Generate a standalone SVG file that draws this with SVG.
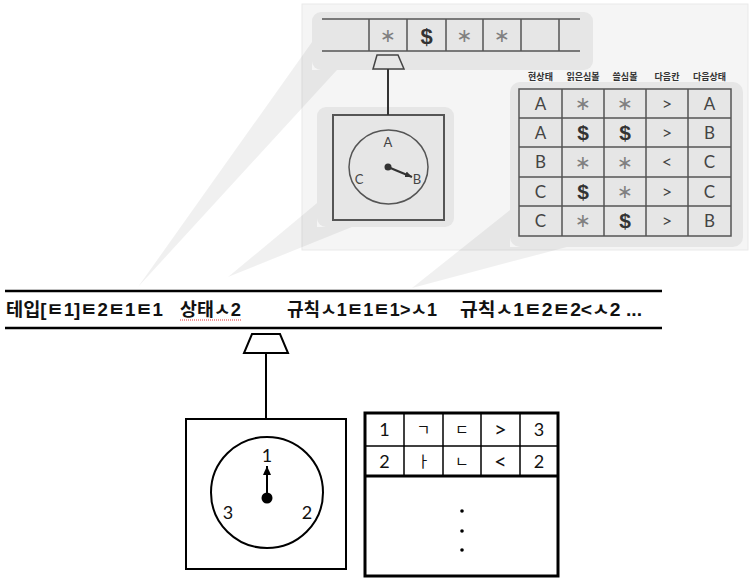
<svg xmlns="http://www.w3.org/2000/svg" width="755" height="586" viewBox="0 0 755 586">
<style>
.bgpanel{fill:#f5f5f5;stroke:#e9e9e9;stroke-width:1}
.wedge{fill:#000;fill-opacity:0.06}
.grp{fill:#e6e6e6}
.gl{stroke:#555;stroke-width:1.5;fill:none}
.gt{font-family:Lato,"Liberation Sans",sans-serif;fill:#444;text-anchor:middle}
.ast{font-family:"DejaVu Sans",sans-serif;fill:#808080;text-anchor:middle;font-size:19px}
.dol{font-family:"Liberation Sans",sans-serif;font-weight:bold;fill:#333;text-anchor:middle}
.hdr{font-family:"Noto Sans CJK KR",sans-serif;font-weight:bold;font-size:9px;fill:#333;text-anchor:middle}
.bl{stroke:#000;stroke-width:2;fill:none}
.tape{font-family:"Liberation Sans","Noto Sans CJK KR",sans-serif;font-weight:bold;font-size:18px;fill:#111}
.bt{font-family:Lato,"Liberation Sans",sans-serif;font-size:18px;fill:#111;text-anchor:middle}
.bc{font-family:Lato,"Liberation Sans",sans-serif;font-size:22px;fill:#111;text-anchor:middle}
.bj{font-family:"Noto Sans CJK KR",sans-serif;font-size:15px;fill:#111;text-anchor:middle}
</style>
<defs>
<marker id="ahg" markerWidth="8" markerHeight="8" refX="7" refY="4" orient="auto" markerUnits="userSpaceOnUse">
<path d="M0,1 L7,4 L0,7 Z" fill="#333"/>
</marker>
<marker id="ahb" markerWidth="10" markerHeight="10" refX="9" refY="5" orient="auto" markerUnits="userSpaceOnUse">
<path d="M0,1 L9,5 L0,9 Z" fill="#000"/>
</marker>
</defs>

<g id="zoom-panel">
<rect class="bgpanel" x="302" y="4" width="446" height="246"/>
</g>
<g id="projection-wedges">
<polygon class="wedge" points="138,287 312,42 312,70 337,70"/>
<polygon class="wedge" points="228,277 317,203 317,227 352,227"/>
<polygon class="wedge" points="412,288 510,210 510,247 567,247"/>
</g>

<g id="top-tape">
<rect class="grp" x="312" y="12" width="281" height="58" rx="9"/>
<line class="gl" x1="322" y1="19" x2="580" y2="19"/>
<line class="gl" x1="322" y1="51" x2="580" y2="51"/>
<line class="gl" x1="369" y1="19" x2="369" y2="51"/>
<line class="gl" x1="407" y1="19" x2="407" y2="51"/>
<line class="gl" x1="446" y1="19" x2="446" y2="51"/>
<line class="gl" x1="483" y1="19" x2="483" y2="51"/>
<line class="gl" x1="521" y1="19" x2="521" y2="51"/>
<line class="gl" x1="559" y1="19" x2="559" y2="51"/>
<text class="ast" x="388" y="42">∗</text>
<text class="dol" x="426.5" y="44" font-size="22">$</text>
<text class="ast" x="464.5" y="42">∗</text>
<text class="ast" x="502" y="42">∗</text>
</g>

<g id="top-head">
<polygon points="377,55 398,55 404,69 373,69" fill="none" stroke="#444" stroke-width="1.5"/>
</g>

<g id="top-machine">
<rect class="grp" x="317" y="107" width="137" height="120" rx="9"/>
<rect x="333" y="115" width="111" height="105" fill="none" stroke="#555" stroke-width="2"/>
<ellipse cx="388.5" cy="167" rx="39.5" ry="37" class="gl"/>
<text class="gt" x="388" y="147" font-size="13">A</text>
<text class="gt" x="359" y="184" font-size="13">C</text>
<text class="gt" x="417" y="184" font-size="13">B</text>
<circle cx="388" cy="167" r="3.5" fill="#333"/>
<line x1="388" y1="167" x2="412" y2="177" stroke="#333" stroke-width="2" marker-end="url(#ahg)"/>
</g>

<g id="top-table">
<text class="hdr" x="540.5" y="80">현상태</text>
<text class="hdr" x="583" y="80">읽은심볼</text>
<text class="hdr" x="625" y="80">쓸심볼</text>
<text class="hdr" x="667" y="80">다음칸</text>
<text class="hdr" x="709.5" y="80">다음상태</text>
<rect class="grp" x="510" y="82" width="233" height="165" rx="10"/>
<rect class="gl" x="519" y="89" width="212" height="147"/>
<line class="gl" x1="562" y1="89" x2="562" y2="236"/>
<line class="gl" x1="604" y1="89" x2="604" y2="236"/>
<line class="gl" x1="646" y1="89" x2="646" y2="236"/>
<line class="gl" x1="688" y1="89" x2="688" y2="236"/>
<line class="gl" x1="519" y1="118" x2="731" y2="118"/>
<line class="gl" x1="519" y1="147" x2="731" y2="147"/>
<line class="gl" x1="519" y1="177" x2="731" y2="177"/>
<line class="gl" x1="519" y1="206" x2="731" y2="206"/>
<!-- row 1 -->
<text class="gt" x="540.5" y="109.5" font-size="17">A</text>
<text class="ast" x="583" y="110">∗</text>
<text class="ast" x="625" y="110">∗</text>
<text class="gt" x="667" y="109.5" font-size="18">&gt;</text>
<text class="gt" x="709.5" y="109.5" font-size="17">A</text>
<!-- row 2 -->
<text class="gt" x="540.5" y="138.5" font-size="17">A</text>
<text class="dol" x="583" y="140" font-size="21">$</text>
<text class="dol" x="625" y="140" font-size="21">$</text>
<text class="gt" x="667" y="138.5" font-size="18">&gt;</text>
<text class="gt" x="709.5" y="138.5" font-size="17">B</text>
<!-- row 3 -->
<text class="gt" x="540.5" y="168" font-size="17">B</text>
<text class="ast" x="583" y="168.5">∗</text>
<text class="ast" x="625" y="168.5">∗</text>
<text class="gt" x="667" y="168" font-size="18">&lt;</text>
<text class="gt" x="709.5" y="168" font-size="17">C</text>
<!-- row 4 -->
<text class="gt" x="540.5" y="197.5" font-size="17">C</text>
<text class="dol" x="583" y="199" font-size="21">$</text>
<text class="ast" x="625" y="198">∗</text>
<text class="gt" x="667" y="197.5" font-size="18">&gt;</text>
<text class="gt" x="709.5" y="197.5" font-size="17">C</text>
<!-- row 5 -->
<text class="gt" x="540.5" y="226.5" font-size="17">C</text>
<text class="ast" x="583" y="227">∗</text>
<text class="dol" x="625" y="228" font-size="21">$</text>
<text class="gt" x="667" y="226.5" font-size="18">&gt;</text>
<text class="gt" x="709.5" y="226.5" font-size="17">B</text>
</g>

<g id="bottom-tape">
<line x1="5" y1="291" x2="662" y2="291" stroke="#000" stroke-width="2.5"/>
<line x1="5" y1="328" x2="662" y2="328" stroke="#000" stroke-width="2.5"/>
<text class="tape" x="6" y="316" textLength="157" lengthAdjust="spacingAndGlyphs">테입[ㅌ1]ㅌ2ㅌ1ㅌ1</text>
<text class="tape" x="180" y="316" textLength="61" lengthAdjust="spacingAndGlyphs">상태ㅅ2</text>
<line x1="180" y1="320" x2="241" y2="320" stroke="#e03030" stroke-width="1" stroke-dasharray="1,1"/>
<text class="tape" x="287" y="316" textLength="150" lengthAdjust="spacingAndGlyphs">규칙ㅅ1ㅌ1ㅌ1&gt;ㅅ1</text>
<text class="tape" x="460" y="316" textLength="182" lengthAdjust="spacingAndGlyphs">규칙ㅅ1ㅌ2ㅌ2&lt;ㅅ2 ...</text>
</g>

<g id="bottom-head">
<polygon points="252,334 280,334 288,353 244,353" fill="#fff" stroke="#000" stroke-width="2"/>
</g>

<g id="connectors">
<line x1="388" y1="69" x2="388" y2="115" stroke="#333" stroke-width="2"/>
<line x1="266" y1="353" x2="266" y2="419" stroke="#000" stroke-width="2"/>
</g>

<g id="bottom-machine">
<rect class="bl" x="186" y="419" width="160" height="150"/>
<ellipse class="bl" cx="267" cy="492.5" rx="56" ry="55.5"/>
<text class="bt" x="267" y="462">1</text>
<text class="bt" x="228" y="519">3</text>
<text class="bt" x="307" y="519">2</text>
<circle cx="267" cy="498" r="5.5" fill="#000"/>
<line x1="267" y1="498" x2="267" y2="466" stroke="#000" stroke-width="2" marker-end="url(#ahb)"/>
</g>

<g id="bottom-table">
<rect x="365" y="413" width="193" height="163" fill="none" stroke="#000" stroke-width="3"/>
<line x1="365" y1="446" x2="558" y2="446" stroke="#000" stroke-width="1.5"/>
<line x1="365" y1="476" x2="558" y2="476" stroke="#000" stroke-width="3"/>
<line x1="404" y1="413" x2="404" y2="476" stroke="#000" stroke-width="1.5"/>
<line x1="443" y1="413" x2="443" y2="476" stroke="#000" stroke-width="1.5"/>
<line x1="481" y1="413" x2="481" y2="476" stroke="#000" stroke-width="1.5"/>
<line x1="520" y1="413" x2="520" y2="476" stroke="#000" stroke-width="1.5"/>
<text class="bt" x="384.5" y="436">1</text>
<text class="bj" x="423.5" y="435">ㄱ</text>
<text class="bj" x="462" y="435">ㄷ</text>
<text class="bc" x="500.5" y="437">&gt;</text>
<text class="bt" x="539" y="436">3</text>
<text class="bt" x="384.5" y="467.5">2</text>
<text class="bj" x="423.5" y="467">ㅏ</text>
<text class="bj" x="462" y="467">ㄴ</text>
<text class="bc" x="500.5" y="468.5">&lt;</text>
<text class="bt" x="539" y="467.5">2</text>
<circle cx="462" cy="511" r="1.8" fill="#000"/>
<circle cx="462" cy="531" r="1.8" fill="#000"/>
<circle cx="462" cy="550" r="1.8" fill="#000"/>
</g>
</svg>
